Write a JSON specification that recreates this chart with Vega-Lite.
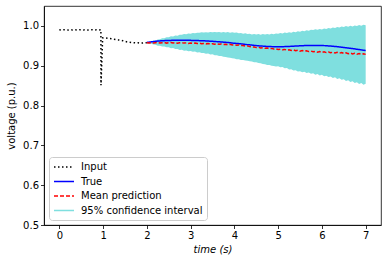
{
  "$schema": "https://vega.github.io/schema/vega-lite/v6.json",
  "width": 337,
  "height": 219,
  "autosize": {"type": "none"},
  "padding": {"left": 44, "top": 6, "right": 5, "bottom": 40},
  "background": "white",
  "config": {
    "font": "DejaVu Sans",
    "view": {"stroke": "black", "strokeWidth": 0.8},
    "axis": {
      "grid": false,
      "domainColor": "black",
      "domainWidth": 0.8,
      "tickColor": "black",
      "tickWidth": 0.8,
      "tickSize": 3.5,
      "labelFontSize": 10,
      "labelColor": "black",
      "labelPadding": 2,
      "titleFontSize": 10,
      "titleFontWeight": "normal",
      "titleColor": "black"
    },
    "legend": {
      "orient": "bottom-left",
      "offset": 5,
      "padding": 4,
      "fillColor": "white",
      "strokeColor": "#cccccc",
      "cornerRadius": 3,
      "labelFontSize": 10,
      "labelColor": "black",
      "symbolType": "M-2,0H2",
      "symbolSize": 100,
      "symbolOffset": 5,
      "symbolOpacity": 1,
      "labelOffset": 11,
      "rowPadding": 3.5
    }
  },
  "datasets": {
    "input": [
      {"t": 0.00, "v": 0.9905}, {"t": 0.05, "v": 0.9898}, {"t": 0.10, "v": 0.9903}, {"t": 0.15, "v": 0.9900},
      {"t": 0.20, "v": 0.9896}, {"t": 0.25, "v": 0.9904}, {"t": 0.30, "v": 0.9899}, {"t": 0.35, "v": 0.9902},
      {"t": 0.40, "v": 0.9897}, {"t": 0.45, "v": 0.9901}, {"t": 0.50, "v": 0.9905}, {"t": 0.55, "v": 0.9898},
      {"t": 0.60, "v": 0.9903}, {"t": 0.65, "v": 0.9896}, {"t": 0.70, "v": 0.9900}, {"t": 0.75, "v": 0.9904},
      {"t": 0.80, "v": 0.9897}, {"t": 0.85, "v": 0.9901}, {"t": 0.90, "v": 0.9899}, {"t": 0.95, "v": 0.9902},
      {"t": 0.952, "v": 0.851}, {"t": 0.99, "v": 0.9700},
      {"t": 1.05, "v": 0.9698}, {"t": 1.10, "v": 0.9690}, {"t": 1.15, "v": 0.9682}, {"t": 1.20, "v": 0.9675},
      {"t": 1.25, "v": 0.9662}, {"t": 1.30, "v": 0.9655}, {"t": 1.35, "v": 0.9648}, {"t": 1.40, "v": 0.9636},
      {"t": 1.45, "v": 0.9628}, {"t": 1.50, "v": 0.9612}, {"t": 1.55, "v": 0.9598}, {"t": 1.60, "v": 0.9590},
      {"t": 1.65, "v": 0.9582}, {"t": 1.70, "v": 0.9578}, {"t": 1.75, "v": 0.9572}, {"t": 1.80, "v": 0.9575},
      {"t": 1.85, "v": 0.9568}, {"t": 1.90, "v": 0.9572}, {"t": 1.95, "v": 0.9575}, {"t": 2.00, "v": 0.9578}
    ],
    "truth": [
      {"t": 2.0, "v": 0.9585}, {"t": 2.1, "v": 0.9600}, {"t": 2.2, "v": 0.9613}, {"t": 2.3, "v": 0.9623},
      {"t": 2.4, "v": 0.9630}, {"t": 2.5, "v": 0.9635}, {"t": 2.6, "v": 0.9638}, {"t": 2.7, "v": 0.9640},
      {"t": 2.8, "v": 0.9640}, {"t": 2.9, "v": 0.9639}, {"t": 3.0, "v": 0.9637}, {"t": 3.1, "v": 0.9634},
      {"t": 3.2, "v": 0.9630}, {"t": 3.3, "v": 0.9626}, {"t": 3.4, "v": 0.9620}, {"t": 3.5, "v": 0.9613},
      {"t": 3.6, "v": 0.9605}, {"t": 3.7, "v": 0.9597}, {"t": 3.8, "v": 0.9588}, {"t": 3.9, "v": 0.9577},
      {"t": 4.0, "v": 0.9565}, {"t": 4.1, "v": 0.9555}, {"t": 4.2, "v": 0.9543}, {"t": 4.3, "v": 0.9530},
      {"t": 4.4, "v": 0.9518}, {"t": 4.5, "v": 0.9506}, {"t": 4.6, "v": 0.9496}, {"t": 4.7, "v": 0.9488},
      {"t": 4.8, "v": 0.9482}, {"t": 4.9, "v": 0.9479}, {"t": 5.0, "v": 0.9478}, {"t": 5.1, "v": 0.9479},
      {"t": 5.2, "v": 0.9483}, {"t": 5.3, "v": 0.9488}, {"t": 5.4, "v": 0.9494}, {"t": 5.5, "v": 0.9500},
      {"t": 5.6, "v": 0.9505}, {"t": 5.7, "v": 0.9509}, {"t": 5.8, "v": 0.9511}, {"t": 5.9, "v": 0.9511},
      {"t": 6.0, "v": 0.9508}, {"t": 6.1, "v": 0.9502}, {"t": 6.2, "v": 0.9494}, {"t": 6.3, "v": 0.9484},
      {"t": 6.4, "v": 0.9472}, {"t": 6.5, "v": 0.9459}, {"t": 6.6, "v": 0.9445}, {"t": 6.7, "v": 0.9430},
      {"t": 6.8, "v": 0.9414}, {"t": 6.9, "v": 0.9398}, {"t": 7.0, "v": 0.9382}
    ],
    "pred": [
      {"t": 2.00, "m": 0.9580, "lo": 0.9570, "hi": 0.9590},
      {"t": 2.05, "m": 0.9572, "lo": 0.9555, "hi": 0.9598},
      {"t": 2.10, "m": 0.9581, "lo": 0.9549, "hi": 0.9606},
      {"t": 2.15, "m": 0.9569, "lo": 0.9530, "hi": 0.9632},
      {"t": 2.20, "m": 0.9578, "lo": 0.9526, "hi": 0.9636},
      {"t": 2.25, "m": 0.9584, "lo": 0.9502, "hi": 0.9661},
      {"t": 2.30, "m": 0.9570, "lo": 0.9503, "hi": 0.9665},
      {"t": 2.35, "m": 0.9577, "lo": 0.9481, "hi": 0.9688},
      {"t": 2.40, "m": 0.9583, "lo": 0.9485, "hi": 0.9690},
      {"t": 2.45, "m": 0.9568, "lo": 0.9462, "hi": 0.9718},
      {"t": 2.50, "m": 0.9576, "lo": 0.9463, "hi": 0.9714},
      {"t": 2.55, "m": 0.9582, "lo": 0.9441, "hi": 0.9738},
      {"t": 2.60, "m": 0.9570, "lo": 0.9445, "hi": 0.9736},
      {"t": 2.65, "m": 0.9579, "lo": 0.9418, "hi": 0.9757},
      {"t": 2.70, "m": 0.9566, "lo": 0.9421, "hi": 0.9755},
      {"t": 2.75, "m": 0.9575, "lo": 0.9395, "hi": 0.9778},
      {"t": 2.80, "m": 0.9581, "lo": 0.9400, "hi": 0.9776},
      {"t": 2.85, "m": 0.9568, "lo": 0.9377, "hi": 0.9794},
      {"t": 2.90, "m": 0.9574, "lo": 0.9380, "hi": 0.9790},
      {"t": 2.95, "m": 0.9561, "lo": 0.9362, "hi": 0.9808},
      {"t": 3.00, "m": 0.9572, "lo": 0.9368, "hi": 0.9806},
      {"t": 3.05, "m": 0.9563, "lo": 0.9349, "hi": 0.9822},
      {"t": 3.10, "m": 0.9570, "lo": 0.9355, "hi": 0.9815},
      {"t": 3.15, "m": 0.9558, "lo": 0.9332, "hi": 0.9830},
      {"t": 3.20, "m": 0.9566, "lo": 0.9338, "hi": 0.9826},
      {"t": 3.25, "m": 0.9553, "lo": 0.9318, "hi": 0.9838},
      {"t": 3.30, "m": 0.9561, "lo": 0.9322, "hi": 0.9832},
      {"t": 3.35, "m": 0.9549, "lo": 0.9302, "hi": 0.9842},
      {"t": 3.40, "m": 0.9557, "lo": 0.9305, "hi": 0.9837},
      {"t": 3.45, "m": 0.9546, "lo": 0.9285, "hi": 0.9846},
      {"t": 3.50, "m": 0.9553, "lo": 0.9290, "hi": 0.9838},
      {"t": 3.55, "m": 0.9541, "lo": 0.9266, "hi": 0.9847},
      {"t": 3.60, "m": 0.9549, "lo": 0.9263, "hi": 0.9839},
      {"t": 3.65, "m": 0.9537, "lo": 0.9245, "hi": 0.9848},
      {"t": 3.70, "m": 0.9545, "lo": 0.9242, "hi": 0.9836},
      {"t": 3.75, "m": 0.9533, "lo": 0.9226, "hi": 0.9847},
      {"t": 3.80, "m": 0.9540, "lo": 0.9222, "hi": 0.9835},
      {"t": 3.85, "m": 0.9525, "lo": 0.9204, "hi": 0.9844},
      {"t": 3.90, "m": 0.9537, "lo": 0.9203, "hi": 0.9831},
      {"t": 3.95, "m": 0.9522, "lo": 0.9185, "hi": 0.9838},
      {"t": 4.00, "m": 0.9530, "lo": 0.9182, "hi": 0.9826},
      {"t": 4.05, "m": 0.9515, "lo": 0.9163, "hi": 0.9833},
      {"t": 4.10, "m": 0.9522, "lo": 0.9162, "hi": 0.9818},
      {"t": 4.15, "m": 0.9505, "lo": 0.9145, "hi": 0.9823},
      {"t": 4.20, "m": 0.9509, "lo": 0.9141, "hi": 0.9806},
      {"t": 4.25, "m": 0.9492, "lo": 0.9130, "hi": 0.9815},
      {"t": 4.30, "m": 0.9498, "lo": 0.9122, "hi": 0.9797},
      {"t": 4.35, "m": 0.9480, "lo": 0.9110, "hi": 0.9803},
      {"t": 4.40, "m": 0.9475, "lo": 0.9105, "hi": 0.9786},
      {"t": 4.45, "m": 0.9468, "lo": 0.9090, "hi": 0.9798},
      {"t": 4.50, "m": 0.9455, "lo": 0.9085, "hi": 0.9782},
      {"t": 4.55, "m": 0.9463, "lo": 0.9068, "hi": 0.9797},
      {"t": 4.60, "m": 0.9448, "lo": 0.9062, "hi": 0.9780},
      {"t": 4.65, "m": 0.9452, "lo": 0.9045, "hi": 0.9796},
      {"t": 4.70, "m": 0.9438, "lo": 0.9038, "hi": 0.9782},
      {"t": 4.75, "m": 0.9445, "lo": 0.9020, "hi": 0.9798},
      {"t": 4.80, "m": 0.9428, "lo": 0.9016, "hi": 0.9785},
      {"t": 4.85, "m": 0.9435, "lo": 0.9000, "hi": 0.9806},
      {"t": 4.90, "m": 0.9418, "lo": 0.8995, "hi": 0.9792},
      {"t": 4.95, "m": 0.9425, "lo": 0.8978, "hi": 0.9812},
      {"t": 5.00, "m": 0.9408, "lo": 0.8985, "hi": 0.9800},
      {"t": 5.05, "m": 0.9416, "lo": 0.8962, "hi": 0.9822},
      {"t": 5.10, "m": 0.9400, "lo": 0.8965, "hi": 0.9810},
      {"t": 5.15, "m": 0.9410, "lo": 0.8935, "hi": 0.9834},
      {"t": 5.20, "m": 0.9392, "lo": 0.8940, "hi": 0.9820},
      {"t": 5.25, "m": 0.9401, "lo": 0.8905, "hi": 0.9840},
      {"t": 5.30, "m": 0.9385, "lo": 0.8912, "hi": 0.9830},
      {"t": 5.35, "m": 0.9396, "lo": 0.8878, "hi": 0.9856},
      {"t": 5.40, "m": 0.9378, "lo": 0.8885, "hi": 0.9842},
      {"t": 5.45, "m": 0.9388, "lo": 0.8855, "hi": 0.9866},
      {"t": 5.50, "m": 0.9366, "lo": 0.8862, "hi": 0.9852},
      {"t": 5.55, "m": 0.9380, "lo": 0.8838, "hi": 0.9880},
      {"t": 5.60, "m": 0.9362, "lo": 0.8850, "hi": 0.9866},
      {"t": 5.65, "m": 0.9375, "lo": 0.8818, "hi": 0.9892},
      {"t": 5.70, "m": 0.9355, "lo": 0.8832, "hi": 0.9880},
      {"t": 5.75, "m": 0.9368, "lo": 0.8798, "hi": 0.9905},
      {"t": 5.80, "m": 0.9350, "lo": 0.8812, "hi": 0.9895},
      {"t": 5.85, "m": 0.9362, "lo": 0.8775, "hi": 0.9918},
      {"t": 5.90, "m": 0.9342, "lo": 0.8792, "hi": 0.9904},
      {"t": 5.95, "m": 0.9355, "lo": 0.8755, "hi": 0.9925},
      {"t": 6.00, "m": 0.9335, "lo": 0.8772, "hi": 0.9912},
      {"t": 6.05, "m": 0.9350, "lo": 0.8738, "hi": 0.9935},
      {"t": 6.10, "m": 0.9330, "lo": 0.8750, "hi": 0.9922},
      {"t": 6.15, "m": 0.9345, "lo": 0.8715, "hi": 0.9948},
      {"t": 6.20, "m": 0.9326, "lo": 0.8732, "hi": 0.9935},
      {"t": 6.25, "m": 0.9340, "lo": 0.8692, "hi": 0.9960},
      {"t": 6.30, "m": 0.9318, "lo": 0.8712, "hi": 0.9945},
      {"t": 6.35, "m": 0.9335, "lo": 0.8668, "hi": 0.9972},
      {"t": 6.40, "m": 0.9315, "lo": 0.8685, "hi": 0.9958},
      {"t": 6.45, "m": 0.9330, "lo": 0.8645, "hi": 0.9985},
      {"t": 6.50, "m": 0.9310, "lo": 0.8662, "hi": 0.9970},
      {"t": 6.55, "m": 0.9325, "lo": 0.8618, "hi": 0.9995},
      {"t": 6.60, "m": 0.9302, "lo": 0.8635, "hi": 0.9980},
      {"t": 6.65, "m": 0.9318, "lo": 0.8590, "hi": 1.0003},
      {"t": 6.70, "m": 0.9298, "lo": 0.8612, "hi": 0.9988},
      {"t": 6.75, "m": 0.9312, "lo": 0.8568, "hi": 1.0012},
      {"t": 6.80, "m": 0.9290, "lo": 0.8585, "hi": 0.9998},
      {"t": 6.85, "m": 0.9305, "lo": 0.8540, "hi": 1.0020},
      {"t": 6.90, "m": 0.9282, "lo": 0.8565, "hi": 1.0005},
      {"t": 6.95, "m": 0.9300, "lo": 0.8520, "hi": 1.0030},
      {"t": 7.00, "m": 0.9285, "lo": 0.8545, "hi": 1.0015}
    ]
  },
  "layer": [
    {
      "data": {"name": "pred"},
      "mark": {"type": "area", "opacity": 1},
      "encoding": {
        "x": {"field": "t", "type": "quantitative", "scale": {"domain": [-0.35, 7.35], "nice": false, "zero": false},
              "axis": {"values": [0, 1, 2, 3, 4, 5, 6, 7], "format": "d", "title": "time (s)", "titleFontStyle": "italic", "titlePadding": 4}},
        "y": {"field": "lo", "type": "quantitative", "scale": {"domain": [0.5, 1.05], "nice": false, "zero": false},
              "axis": {"values": [0.5, 0.6, 0.7, 0.8, 0.9, 1.0], "format": ".1f", "title": "voltage (p.u.)", "titlePadding": 6}},
        "y2": {"field": "hi"},
        "color": {
          "datum": "95% confidence interval", "type": "nominal",
          "scale": {"domain": ["Input", "True", "Mean prediction", "95% confidence interval"], "range": ["black", "blue", "red", "#7fdfdf"]},
          "legend": {"title": null}
        }
      }
    },
    {
      "data": {"name": "input"},
      "mark": {"type": "line", "strokeWidth": 1.5},
      "encoding": {
        "x": {"field": "t", "type": "quantitative"},
        "y": {"field": "v", "type": "quantitative"},
        "color": {"datum": "Input", "type": "nominal", "legend": {"title": null}},
        "strokeDash": {
          "datum": "Input", "type": "nominal",
          "scale": {"domain": ["Input", "True", "Mean prediction", "95% confidence interval"], "range": [[1.5, 2.5], [1, 0], [4, 2], [1, 0]]},
          "legend": {"title": null}
        }
      }
    },
    {
      "data": {"name": "truth"},
      "mark": {"type": "line", "strokeWidth": 1.5, "interpolate": "monotone"},
      "encoding": {
        "x": {"field": "t", "type": "quantitative"},
        "y": {"field": "v", "type": "quantitative"},
        "color": {"datum": "True", "type": "nominal", "legend": {"title": null}},
        "strokeDash": {"datum": "True", "type": "nominal", "legend": {"title": null}}
      }
    },
    {
      "data": {"name": "pred"},
      "mark": {"type": "line", "strokeWidth": 1.5},
      "encoding": {
        "x": {"field": "t", "type": "quantitative"},
        "y": {"field": "m", "type": "quantitative"},
        "color": {"datum": "Mean prediction", "type": "nominal", "legend": {"title": null}},
        "strokeDash": {"datum": "Mean prediction", "type": "nominal", "legend": {"title": null}}
      }
    }
  ]
}
